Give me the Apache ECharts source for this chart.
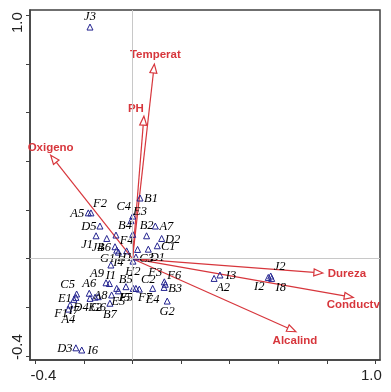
<!DOCTYPE html>
<html>
<head>
<meta charset="utf-8">
<script src="https://cdn.jsdelivr.net/npm/echarts@6/dist/echarts.min.js"></script>
<style>
html, body { margin: 0; padding: 0; background: #fff; }
#chart { width: 391px; height: 392px; }
</style>
</head>
<body>
<div id="chart"></div>
<script>
// sample sites (triangles)
const siteNames = ['J3','B1','A5','F2','C4','E3','D5','B4','','A7','B2','D2','C1','J1','J4','B6','G1','I4','F4','H1',
    'C3','D1','H2','I1','A9','','B5','E5','F5','J5','F7','C2','E4','F3','F6','B3','G2','C5','E1','I7',
    'F1','A4','A6','D4','E2','G6','A8','B7','D3','I6','I3','A2','J2','I2','I8'];
const siteX = [-0.175,0.031,-0.182,-0.171,0.001,-0.006,-0.134,-0.068,0.001,0.094,0.058,0.120,0.102,-0.150,-0.106,-0.072,-0.065,-0.058,-0.024,0.014,
    0.021,0.065,0.002,-0.089,-0.109,-0.095,-0.065,-0.058,-0.027,0.003,0.014,0.028,0.083,0.131,0.135,0.130,0.143,-0.230,-0.233,-0.241,
    -0.257,-0.264,-0.178,-0.175,-0.154,-0.141,-0.086,-0.093,-0.233,-0.209,0.360,0.336,0.569,0.559,0.573];
const siteY = [0.951,0.249,0.188,0.188,0.175,0.156,0.134,0.097,0.100,0.134,0.094,0.083,0.053,0.094,0.083,0.049,0.035,0.027,0.032,0.007,
    0.038,0.039,-0.010,-0.026,-0.099,-0.102,-0.122,-0.132,-0.115,-0.122,-0.122,-0.125,-0.122,-0.095,-0.105,-0.118,-0.174,-0.145,-0.159,-0.167,
    -0.190,-0.207,-0.142,-0.163,-0.158,-0.156,-0.149,-0.183,-0.366,-0.375,-0.067,-0.081,-0.071,-0.077,-0.081];
// where each site label sits relative to its triangle
const siteLabelPos = ['t','r','l','tr','tl','tr','l','tr','','r','t','r','r','bl','bl','l','bl','b','t','l',
    'br','br','b','b','tl','','tr','b','b','bl','br','tr','b','tl','tr','r','b','tl','l','b',
    'bl','b','t','bl','b','b','l','b','l','r','r','br','tr','bl','br'];

// environmental variables (arrows)
const envNames = ['Temperat','PH','Oxigeno','Dureza','Conductv','Alcalind'];
const envX = [0.090, 0.047, -0.337, 0.784, 0.909, 0.673];
const envY = [0.799, 0.585, 0.425, -0.059, -0.159, -0.300];
const envLabelDx = [1, -8, 0, 24, 0, -1];
const envLabelDy = [-9, -7, -7.5, 1, 7.5, 9];

// axes
const axisTicks = [-0.4, -0.2, 0, 0.2, 0.4, 0.6, 0.8, 1.0];
const axisLabels = [-0.4, 1.0];

const red = '#d7363c';
const blue = '#23238f';
const frame = '#404040';

const offsets = {
    r: [11, 1], l: [-11, 1], t: [0, -10], b: [0, 11],
    tr: [9, -9], tl: [-9, -9], br: [9, 9], bl: [-9, 9]
};

const siteData = siteNames.map(function (n, i) {
    const code = siteLabelPos[i];
    return {
        name: n,
        value: [siteX[i], siteY[i]],
        label: code ? { show: true, offset: offsets[code] } : { show: false }
    };
});

const envData = envNames.map(function (n, i) {
    return { name: n, value: [envX[i], envY[i]] };
});

function renderArrow(params, api) {
    const i = params.dataIndex;
    const o = api.coord([0, 0]);
    const p = api.coord([api.value(0), api.value(1)]);
    const a = Math.atan2(p[1] - o[1], p[0] - o[0]);
    const len = 9, half = 3.5;
    const bx = p[0] - len * Math.cos(a), by = p[1] - len * Math.sin(a);
    const nx = -Math.sin(a) * half, ny = Math.cos(a) * half;
    return {
        type: 'group',
        children: [
            { type: 'line', shape: { x1: o[0], y1: o[1], x2: bx, y2: by },
              style: { stroke: red, lineWidth: 1.2 } },
            { type: 'polygon', shape: { points: [[p[0], p[1]], [bx + nx, by + ny], [bx - nx, by - ny]] },
              style: { fill: '#fff', stroke: red, lineWidth: 1.2 } },
            { type: 'text', x: p[0] + envLabelDx[i], y: p[1] + envLabelDy[i],
              style: { text: envNames[i], fill: red, fontFamily: 'Liberation Sans, Arial, sans-serif',
                       fontWeight: 'bold', fontSize: 11.5, align: 'center', verticalAlign: 'middle' } }
        ]
    };
}

const chart = echarts.init(document.getElementById('chart'));

const option = {
    animation: false,
    grid: { left: 30, top: 10, width: 350, height: 350, show: true, borderColor: frame, borderWidth: 1.5 },
    xAxis: {
        type: 'value', min: -0.422, max: 1.019,
        axisLine: { show: true, onZero: false, lineStyle: { color: frame, width: 1.5 } },
        axisTick: { show: true, customValues: axisTicks, length: 4, lineStyle: { color: frame } },
        splitLine: { show: false },
        axisLabel: {
            customValues: axisLabels, margin: 8, color: '#222', fontSize: 15,
            fontFamily: 'Liberation Sans, Arial, sans-serif',
            formatter: function (v) { return v < 0 ? '{lo|' + v.toFixed(1) + '}' : '{hi|' + v.toFixed(1) + '}'; },
            rich: { lo: { padding: [0, 0, 0, 16] }, hi: { padding: [0, 8, 0, 0] } }
        }
    },
    yAxis: {
        type: 'value', min: -0.416, max: 1.021,
        axisLine: { show: true, onZero: false, lineStyle: { color: frame, width: 1.5 } },
        axisTick: { show: true, customValues: axisTicks, length: 4, lineStyle: { color: frame } },
        splitLine: { show: false },
        axisLabel: {
            customValues: axisLabels, rotate: 90, margin: 5, color: '#222', fontSize: 15,
            fontFamily: 'Liberation Sans, Arial, sans-serif',
            formatter: function (v) { return v < 0 ? '{lo|' + v.toFixed(1) + '}' : '{hi|' + v.toFixed(1) + '}'; },
            rich: { lo: { padding: [0, 0, 0, 18] }, hi: { padding: [0, 15, 0, 0] } }
        }
    },
    series: [
        {
            type: 'scatter', data: [], z: 1,
            markLine: {
                silent: true, symbol: 'none', label: { show: false }, animation: false,
                lineStyle: { color: '#c8c8c8', width: 1, type: 'solid' },
                data: [{ xAxis: 0 }, { yAxis: 0 }]
            }
        },
        {
            type: 'custom', z: 3,
            renderItem: renderArrow,
            data: envData
        },
        {
            type: 'scatter', z: 4,
            symbol: 'triangle', symbolSize: 6,
            itemStyle: { color: 'rgba(255,255,255,0)', borderColor: blue, borderWidth: 1, opacity: 1 },
            label: {
                show: true, position: 'inside', formatter: '{b}',
                fontFamily: 'Liberation Serif, Times New Roman, serif', fontStyle: 'italic',
                fontSize: 12.5, color: '#000', textBorderWidth: 0
            },
            data: siteData
        }
    ]
};
chart.setOption(option);
</script>
</body>
</html>
